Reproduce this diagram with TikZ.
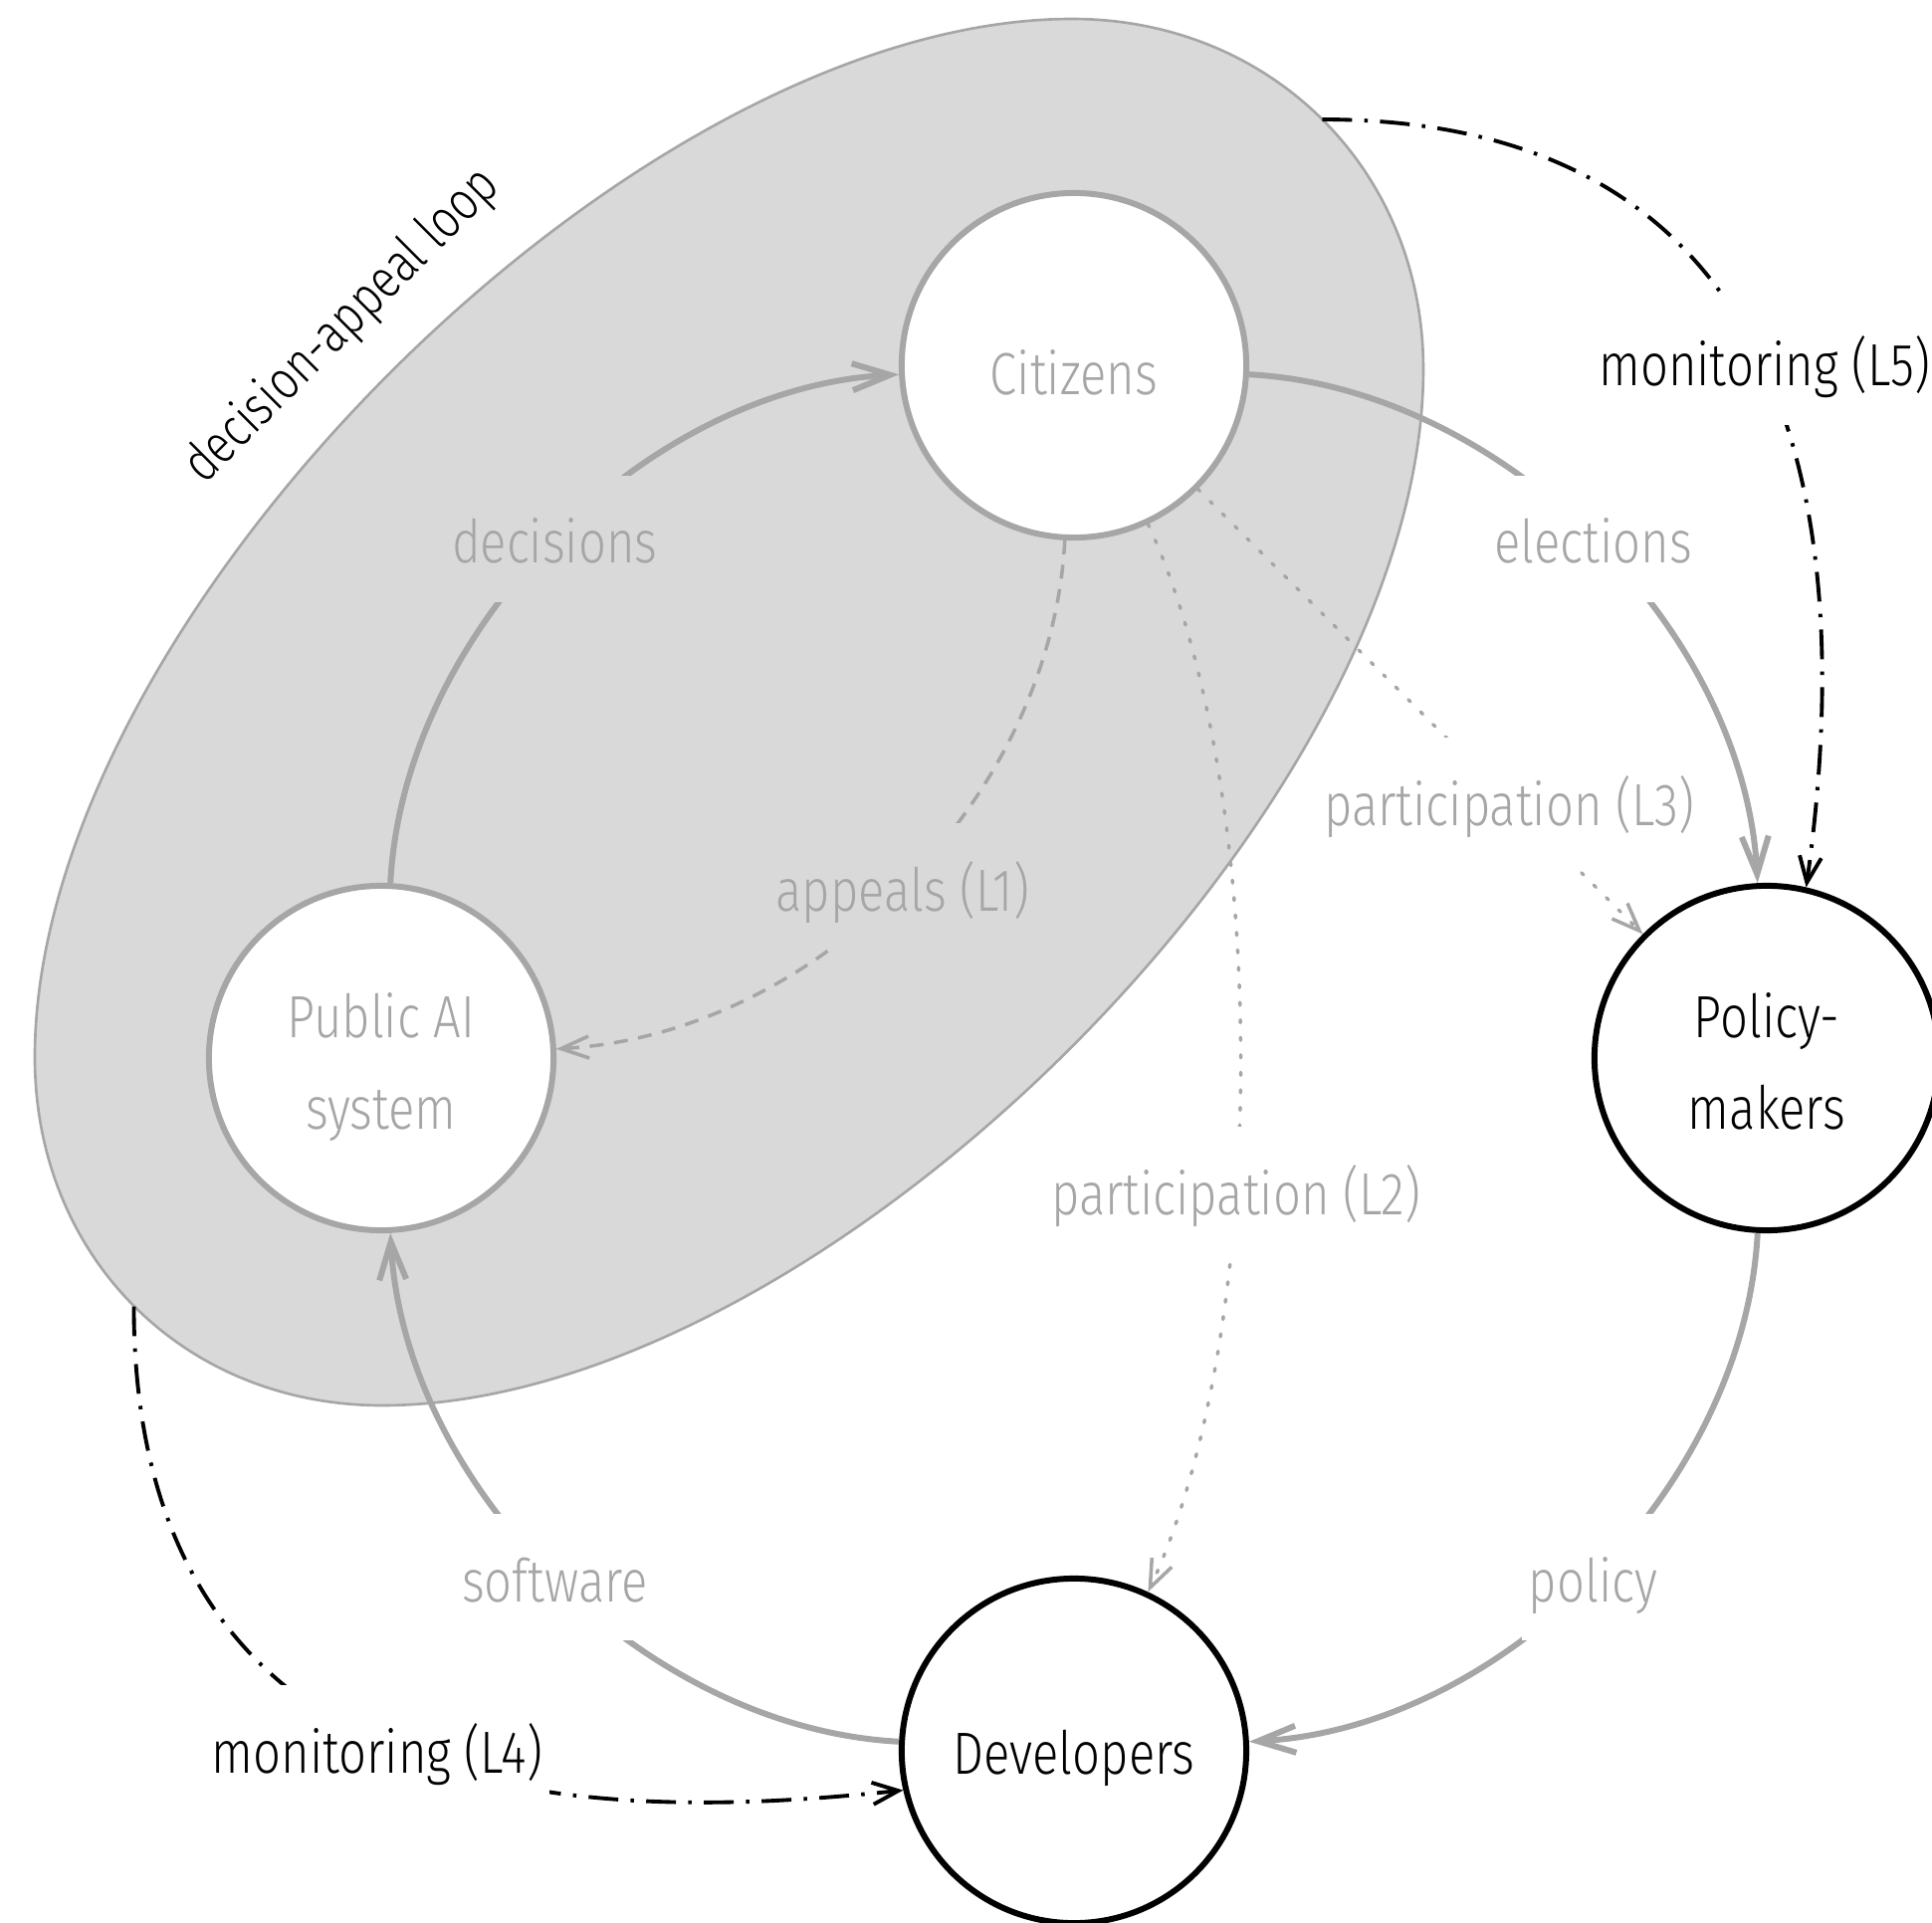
\documentclass[tikz,border=0pt]{standalone}
\usepackage{fontspec}
\IfFontExistsTF{Fira Sans Light}{\setmainfont{Fira Sans Light}[FakeStretch=0.82]}{\setmainfont{Fira Sans}[FakeStretch=0.79]}
\usetikzlibrary{arrows.meta}
\definecolor{lgray}{HTML}{A6A6A6}
\definecolor{blobfill}{HTML}{D9D9D9}
\newcommand{\ntxt}[1]{\raisebox{-2pt}[\height][\depth]{#1}}
\newcommand{\twolines}[2]{\ntxt{\begin{tabular}{@{}c@{}}#1\\#2\end{tabular}}}
\begin{document}
\begin{tikzpicture}[x=0.01cm, y=0.01cm,
  every node/.style={font=\fontsize{17}{26}\selectfont},
  actor/.style={circle, line width=1.7pt, fill=white, minimum size=34.6mm, inner sep=0pt, align=center},
  greyactor/.style={actor, draw=lgray, text=lgray},
  blackactor/.style={actor, draw=black, text=black},
  flow/.style={draw=lgray, line width=1.7pt, -{Straight Barb[length=3.8mm,width=2.7mm]}},
  thinflow/.style={draw=lgray, line width=1pt, -{Straight Barb[length=2.8mm,width=2.2mm]}},
  dotline/.style={line cap=round, dash pattern=on 0.8pt off 4.2pt},
  dashline/.style={dash pattern=on 4pt off 3pt},
  monflow/.style={draw=black, line width=1.1pt, dash pattern=on 8.5pt off 3.5pt on 1pt off 3.5pt, -{Straight Barb[length=2.6mm,width=2.2mm]}},
  lbl/.style={text=lgray, fill=white, inner xsep=2pt, inner ysep=10pt, text height=15pt, text depth=1pt},
  lblin/.style={lbl, fill=blobfill},
  mlbl/.style={lbl, text=black},
  arc/.style={bend left=42, looseness=0.9},
]
\useasboundingbox (-1079,-869) rectangle (862,1063);

% decision-appeal loop region
\draw[fill=blobfill, draw=lgray, line width=0.75pt]
  (-2,1044) .. controls (198,1044) and (351,892) .. (351,692)
  .. controls (351,252) and (-255,-349) .. (-695,-349)
  .. controls (-895,-349) and (-1044,-199) .. (-1044,1)
  .. controls (-1044,441) and (-442,1044) .. (-2,1044) -- cycle;
\node[rotate=45, font=\fontsize{15.5}{20}\selectfont] (dal) at (-735,735) {decision-appeal loop};

\coordinate (m5s) at (249.5,943);
\coordinate (m4s) at (-944.5,-249.5);

\node[greyactor] (cit) at (0,696) {\ntxt{Citizens}};
\node[greyactor] (pub) at (-696,0) {\twolines{Public AI}{system}};
\node[blackactor] (pol) at (696,0) {\twolines{Policy-}{makers}};
\node[blackactor] (dev) at (0,-696) {\ntxt{Developers}};

\draw[flow] (pub) to[arc] node[lblin] {decisions} (cit);
\draw[flow] (cit) to[arc] node[lbl] {elections} (pol);
\draw[flow] (pol) to[arc] node[lbl] {policy} (dev);
\draw[flow] (dev) to[arc] node[lbl] {software} (pub);

\draw[thinflow, dashline] (cit) to[bend left=42, looseness=0.92] node[lblin] {appeals (L1)} (pub);
\draw[thinflow, dotline] (cit) to[out=-65, in=65, looseness=0.7] node[lbl, pos=0.61] {participation (L2)} (dev);
\draw[thinflow, dotline] (cit) -- node[lbl, pos=0.7] {participation (L3)} (pol);

\draw[monflow] (m5s) .. controls +(465,0) and +(82:397) .. node[mlbl, pos=0.5, xshift=0.06cm, yshift=-0.05cm] {monitoring (L5)} (pol.77);
\draw[monflow] (m4s) .. controls +(0,-530) and +(186:287) .. node[mlbl, pos=0.5, xshift=-0.35cm, yshift=0.09cm] {monitoring (L4)} (dev.193);
\end{tikzpicture}
\end{document}
